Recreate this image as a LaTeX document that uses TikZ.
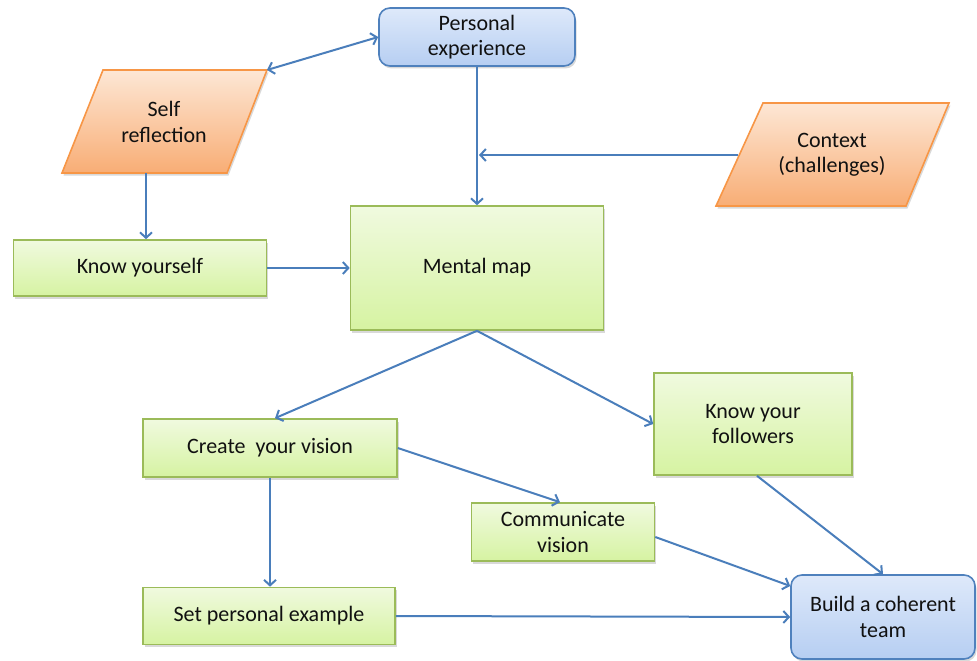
\documentclass[tikz,border=0pt]{standalone}
\usepackage{fontspec}
\setmainfont{Carlito}
\usetikzlibrary{arrows.meta,shadows}
\definecolor{grnLine}{HTML}{9BBB59}
\definecolor{grnTop}{HTML}{F0FADF}
\definecolor{grnBot}{HTML}{D6F3A2}
\definecolor{bluLine}{HTML}{4F81BD}
\definecolor{bluTop}{HTML}{DEE9FA}
\definecolor{bluBot}{HTML}{B6CEF2}
\definecolor{orgLine}{HTML}{F79646}
\definecolor{orgTop}{HTML}{FDE7D5}
\definecolor{orgBot}{HTML}{F8AD75}
\definecolor{arrowCol}{HTML}{4A7EBB}
\definecolor{txtCol}{HTML}{111111}
\tikzset{
  lbl/.style={font=\fontsize{22}{25.5}\selectfont, text=txtCol, align=center},
  shad/.style={drop shadow={shadow xshift=1.5pt, shadow yshift=-2.5pt, opacity=0.25, fill=black!60}},
  gbox/.style={lbl, shad, draw=grnLine, line width=1.6pt, top color=grnTop, bottom color=grnBot, inner sep=0pt},
  bbox/.style={lbl, shad, draw=bluLine, line width=1.6pt, top color=bluTop, bottom color=bluBot, rounded corners=11pt, inner sep=0pt},
  pbox/.style={shad, draw=orgLine, line width=1.6pt, top color=orgTop, bottom color=orgBot},
  conn/.style={draw=arrowCol, line width=2pt, -{Straight Barb[length=5.5pt,width=12pt]}},
  conn2/.style={draw=arrowCol, line width=2pt, {Straight Barb[length=5.5pt,width=12pt]}-{Straight Barb[length=5.5pt,width=12pt]}}
}
\begin{document}
\begin{tikzpicture}[x=1pt,y=-1pt]
\useasboundingbox (0,0) rectangle (977,661);
% parallelograms
\path[pbox] (103,70) -- (267,70) -- (227,173) -- (62,173) -- cycle;
\node[lbl] (sr) at (164,122) {Self\\reflection};
\coordinate (srtr) at (267,70);
\coordinate (srb) at (146,173);
\path[pbox] (763,103) -- (949,103) -- (906,206) -- (716,206) -- cycle;
\node[lbl] (ctx) at (832,155) {Context\\(challenges)};
\coordinate (ctxl) at (738,155);
% boxes
\node[bbox, minimum width=196pt, minimum height=58pt] (pe) at (477,37) {Personal\\experience};
\node[gbox, minimum width=253pt, minimum height=56pt] (ky) at (140,268) {Know yourself};
\node[gbox, minimum width=253pt, minimum height=124pt] (mm) at (477,268) {Mental map};
\node[gbox, minimum width=254pt, minimum height=58pt] (cv) at (270,448) {Create \ your vision};
\node[gbox, minimum width=198pt, minimum height=102pt] (kf) at (753,424) {Know your\\followers};
\node[gbox, minimum width=183pt, minimum height=58pt] (cm) at (563,532) {Communicate\\vision};
\node[gbox, minimum width=252pt, minimum height=57pt] (sp) at (269,616) {Set personal example};
\node[bbox, minimum width=184pt, minimum height=84pt] (bt) at (883,617) {Build a coherent\\team};
\coordinate (join) at (pe.south |- ctxl);
% connectors
\draw[conn2] (srtr) -- (pe.west);
\draw[conn] (pe.south) -- (mm.north);
\draw[conn] (ctxl) -- ([xshift=2pt]join);
\draw[conn] (srb) -- (srb |- ky.north);
\draw[conn] (ky.east) -- (mm.west);
\draw[conn] (mm.south) -- ([xshift=5pt]cv.north);
\draw[conn] (mm.south) -- (kf.west);
\draw[conn] (cv.east) -- ([xshift=-3pt]cm.north);
\draw[conn] (cv.south) -- (cv.south |- sp.north);
\draw[conn] ([yshift=-5pt]cm.east) -- ([yshift=31pt]bt.west);
\draw[conn] ([xshift=4pt]kf.south) -- (bt.north);
\draw[conn] (sp.east) -- (bt.west);
\end{tikzpicture}
\end{document}
